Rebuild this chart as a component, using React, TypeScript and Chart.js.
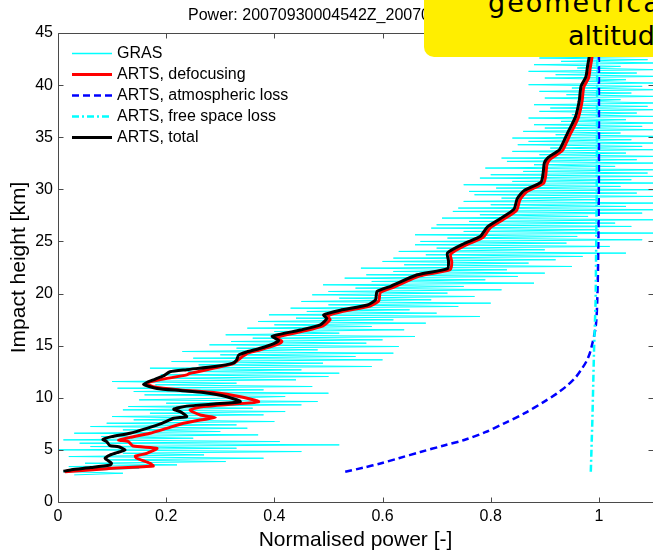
import React, { useEffect, useRef } from "react";
import { Chart, registerables } from "chart.js";

Chart.register(...registerables);

const FONT = '"Liberation Sans", Arial, Helvetica, sans-serif';

const X_TICKS = [0, 0.2, 0.4, 0.6, 0.8, 1];
const X_TICK_LABELS = ["0", "0.2", "0.4", "0.6", "0.8", "1"];
const Y_TICKS = [0, 5, 10, 15, 20, 25, 30, 35, 40, 45];
const Y_TICK_LABELS = ["0", "5", "10", "15", "20", "25", "30", "35", "40", "45"];

const TITLE = "Power: 20070930004542Z_20070930004700Z";
const X_TITLE = "Normalised power [-]";
const Y_TITLE = "Impact height [km]";
const NOTE_LINES = ["geometrical", "altitude"];

const SERIES_LABELS = [
  "GRAS",
  "ARTS, defocusing",
  "ARTS, atmospheric loss",
  "ARTS, free space loss",
  "ARTS, total",
];

// GRAS measured profile: sampled every 0.16 km from 2.6 km
const GRAS_START_KM = 2.6;
const GRAS_STEP_KM = 0.16;
const GRAS_POWER = [
  0.03, 0.12, 0.01, 0.08, 0.15, 0.02, 0.22, 0.05, 0.31, 0.09,
  0.38, 0.02, 0.27, 0.12, 0.45, 0.0, 0.33, 0.06, 0.52, 0.04,
  0.41, 0.01, 0.25, 0.08, 0.37, 0.03, 0.3, 0.12, 0.35, 0.06,
  0.33, 0.09, 0.4, 0.14, 0.28, 0.1, 0.38, 0.17, 0.42, 0.12,
  0.36, 0.13, 0.45, 0.2, 0.48, 0.15, 0.3, 0.42, 0.16, 0.5,
  0.14, 0.38, 0.11, 0.47, 0.18, 0.33, 0.1, 0.44, 0.2, 0.5,
  0.19, 0.52, 0.24, 0.45, 0.17, 0.58, 0.26, 0.49, 0.21, 0.6,
  0.25, 0.55, 0.3, 0.62, 0.23, 0.48, 0.33, 0.63, 0.28, 0.57,
  0.32, 0.6, 0.36, 0.66, 0.31, 0.52, 0.4, 0.64, 0.35, 0.58,
  0.4, 0.68, 0.37, 0.62, 0.44, 0.78, 0.39, 0.7, 0.46, 0.65,
  0.43, 0.74, 0.5, 0.8, 0.45, 0.69, 0.52, 0.77, 0.47, 0.72,
  0.5, 0.82, 0.55, 0.75, 0.49, 0.88, 0.58, 0.79, 0.53, 0.85,
  0.57, 0.9, 0.62, 0.83, 0.56, 0.95, 0.64, 0.87, 0.6, 0.92,
  0.62, 0.97, 0.68, 1.05, 0.63, 0.9, 0.7, 1.02, 0.66, 0.94,
  0.67, 1.08, 0.72, 0.96, 0.66, 1.1, 0.75, 1.0, 0.69, 1.06,
  0.7, 1.03, 0.76, 1.1, 0.71, 0.98, 0.78, 1.08, 0.73, 1.12,
  0.74, 1.05, 0.8, 1.12, 0.75, 1.0, 0.82, 1.1, 0.77, 1.07,
  0.76, 1.11, 0.81, 1.04, 0.75, 1.12, 0.84, 1.06, 0.78, 1.1,
  0.8, 1.09, 0.86, 1.12, 0.79, 1.03, 0.88, 1.11, 0.83, 1.07,
  0.82, 1.12, 0.89, 1.05, 0.84, 1.1, 0.91, 1.08, 0.85, 1.12,
  0.87, 1.06, 0.84, 1.12, 0.92, 1.04, 0.86, 1.11, 0.9, 1.08,
  0.88, 1.12, 0.93, 1.05, 0.87, 1.1, 0.95, 1.07, 0.89, 1.12,
  0.91, 1.09, 0.88, 1.12, 0.96, 1.04, 0.9, 1.11, 0.94, 1.06,
  0.89, 1.12, 0.95, 1.08, 0.87, 1.1, 0.97, 1.05, 0.9, 1.12,
  0.92, 1.07, 0.87, 1.11, 0.96, 1.04, 0.88, 1.12, 0.93, 1.09,
  0.89, 1.12, 0.95, 1.06, 0.87, 1.1, 0.98, 1.08, 0.9, 1.12,
];

const DEFOC_HEIGHT = [
  2.9, 3.2, 3.45, 3.7, 4.2, 4.4, 4.67, 5.15, 5.37, 5.8,
  5.95, 6.2, 6.6, 7.07, 7.55, 7.87, 8.1, 8.35, 8.83, 9.15,
  9.4, 9.63, 10.1, 10.5, 10.75, 11.07, 11.4, 11.7, 12.2, 12.35,
  12.9, 13.3, 13.8, 14.3, 14.6, 15.1, 15.4, 15.8, 16.4, 16.9,
  17.5, 17.85, 18.3, 18.8, 19.3, 20.1, 20.6, 21.7, 22.3, 23.0,
  23.8, 24.7, 25.4, 26.3, 27.1, 28.0, 29.0, 29.8, 30.6, 31.5,
  32.4, 32.9, 33.7, 34.5, 35.3, 36.1, 36.9, 37.7, 38.5, 39.8,
  40.7, 41.7, 42.6, 44.0,
];
const DEFOC_POWER = [
  0.013, 0.09, 0.176, 0.17, 0.146, 0.143, 0.164, 0.183, 0.139, 0.13,
  0.112, 0.133, 0.17, 0.201, 0.232, 0.263, 0.291, 0.263, 0.244, 0.269,
  0.325, 0.371, 0.337, 0.288, 0.226, 0.176, 0.164, 0.186, 0.238, 0.244,
  0.294, 0.325, 0.337, 0.352, 0.374, 0.404, 0.414, 0.403, 0.454, 0.49,
  0.503, 0.498, 0.527, 0.577, 0.593, 0.596, 0.62, 0.669, 0.725, 0.728,
  0.726, 0.756, 0.786, 0.799, 0.823, 0.848, 0.854, 0.867, 0.898, 0.902,
  0.904, 0.91, 0.932, 0.94, 0.947, 0.955, 0.962, 0.966, 0.969, 0.972,
  0.981, 0.984, 0.987, 0.99,
];

const ATM_HEIGHT = [2.9, 3.3, 3.7, 4.2, 4.8, 5.4, 5.95, 6.7, 7.55, 8.5, 9.63, 10.4, 11.2, 11.9, 12.67, 13.6, 14.6, 16.8, 19.4, 25, 32, 44];
const ATM_POWER = [0.531, 0.565, 0.596, 0.63, 0.67, 0.712, 0.751, 0.79, 0.825, 0.862, 0.899, 0.922, 0.942, 0.956, 0.967, 0.978, 0.985, 0.994, 0.997, 0.999, 1.0, 1.0];

const FREE_HEIGHT = [2.9, 8, 14.6, 19.4, 30, 44];
const FREE_POWER = [0.985, 0.988, 0.991, 0.994, 0.996, 0.997];

const TOTAL_HEIGHT = [
  2.95, 3.1, 3.3, 3.55, 3.7, 4.0, 4.2, 4.5, 4.73, 5.0,
  5.3, 5.4, 5.8, 6.0, 6.27, 6.6, 7.07, 7.55, 8.03, 8.19,
  8.67, 8.9, 9.2, 9.4, 9.63, 10.1, 10.5, 10.7, 10.9, 11.3,
  11.8, 12.1, 12.5, 12.7, 13.0, 13.3, 13.6, 14.1, 14.4, 14.75,
  15.2, 15.5, 15.9, 16.5, 17.0, 17.6, 17.95, 18.4, 18.9, 19.4,
  20.2, 20.7, 21.8, 22.4, 23.1, 23.9, 24.8, 25.5, 26.4, 27.2,
  28.1, 29.1, 29.9, 30.7, 31.6, 32.5, 33.0, 33.8, 34.6, 35.4,
  36.2, 37.0, 37.8, 38.6, 39.9, 40.8, 41.8, 42.7, 44.0,
];
const TOTAL_POWER = [
  0.01, 0.025, 0.06, 0.096, 0.099, 0.092, 0.087, 0.096, 0.109, 0.124,
  0.112, 0.096, 0.09, 0.083, 0.099, 0.133, 0.164, 0.192, 0.214, 0.238,
  0.226, 0.214, 0.238, 0.288, 0.337, 0.312, 0.269, 0.226, 0.183, 0.158,
  0.18, 0.195, 0.207, 0.238, 0.29, 0.322, 0.33, 0.334, 0.349, 0.374,
  0.399, 0.408, 0.396, 0.448, 0.485, 0.497, 0.491, 0.522, 0.572, 0.587,
  0.59, 0.615, 0.664, 0.72, 0.722, 0.72, 0.751, 0.781, 0.794, 0.818,
  0.843, 0.849, 0.862, 0.893, 0.897, 0.899, 0.905, 0.927, 0.935, 0.942,
  0.95, 0.957, 0.961, 0.964, 0.967, 0.976, 0.979, 0.982, 0.986,
];

const pairs = (xs: number[], ys: number[]) => xs.map((x, i) => ({ x, y: ys[i] }));

const matlabFrame = {
  id: "matlabFrame",
  afterDatasetsDraw(chart: any) {
    const { ctx, chartArea: a, scales } = chart;
    const xs = scales.x;
    const ys = scales.y;
    const L = Math.round(a.left) + 0.5;
    const R = Math.round(a.right) + 0.5;
    const T = Math.round(a.top) + 0.5;
    const B = Math.round(a.bottom) + 0.5;
    ctx.save();
    ctx.strokeStyle = "#4a4a4a";
    ctx.lineWidth = 1;
    ctx.setLineDash([]);
    ctx.beginPath();
    ctx.moveTo(L, T);
    ctx.lineTo(R, T);
    ctx.lineTo(R, B);
    ctx.lineTo(L, B);
    ctx.closePath();
    const tl = 5;
    X_TICKS.forEach((v) => {
      const px = Math.round(xs.getPixelForValue(v)) + 0.5;
      ctx.moveTo(px, B);
      ctx.lineTo(px, B - tl);
      ctx.moveTo(px, T);
      ctx.lineTo(px, T + tl);
    });
    Y_TICKS.forEach((v) => {
      const py = Math.round(ys.getPixelForValue(v)) + 0.5;
      ctx.moveTo(L, py);
      ctx.lineTo(L + tl, py);
      ctx.moveTo(R, py);
      ctx.lineTo(R - tl, py);
    });
    ctx.stroke();
    ctx.restore();
  },
  afterDraw(chart: any) {
    const { ctx, chartArea: a } = chart;
    ctx.save();
    // title
    ctx.fillStyle = "#000";
    ctx.font = `16px ${FONT}`;
    ctx.textAlign = "left";
    ctx.textBaseline = "alphabetic";
    ctx.fillText(TITLE, a.left + 130, 20);
    // legend
    const rowY0 = a.top + 19.5;
    const rowGap = 21.2;
    const x0 = a.left + 14;
    const x1 = a.left + 54;
    chart.data.datasets.forEach((ds: any, i: number) => {
      const y = Math.round(rowY0 + i * rowGap) + 0.5;
      ctx.strokeStyle = ds.borderColor;
      ctx.lineWidth = Math.max(ds.borderWidth, 1.3);
      ctx.setLineDash(ds.borderDash || []);
      ctx.beginPath();
      ctx.moveTo(x0, y);
      ctx.lineTo(x1, y);
      ctx.stroke();
      ctx.setLineDash([]);
      ctx.fillStyle = "#000";
      ctx.font = `16px ${FONT}`;
      ctx.textBaseline = "middle";
      ctx.fillText(ds.label, x1 + 5, y);
    });
    ctx.restore();
  },
};

export default function App() {
  const canvasRef = useRef<HTMLCanvasElement | null>(null);

  useEffect(() => {
    const canvas = canvasRef.current;
    if (!canvas) return;
    const grasData = GRAS_POWER.map((p, i) => ({ x: p, y: GRAS_START_KM + i * GRAS_STEP_KM }));
    const chart = new Chart(canvas, {
      type: "scatter",
      data: {
        datasets: [
          {
            label: SERIES_LABELS[0],
            data: grasData,
            showLine: true,
            borderColor: "#00ffff",
            backgroundColor: "#00ffff",
            borderWidth: 1,
            pointRadius: 0,
            tension: 0,
            order: 4,
          },
          {
            label: SERIES_LABELS[1],
            data: pairs(DEFOC_POWER, DEFOC_HEIGHT),
            showLine: true,
            borderColor: "#ff0000",
            backgroundColor: "#ff0000",
            borderWidth: 3,
            pointRadius: 0,
            tension: 0.2,
            order: 3,
          },
          {
            label: SERIES_LABELS[2],
            data: pairs(ATM_POWER, ATM_HEIGHT),
            showLine: true,
            borderColor: "#0000ff",
            backgroundColor: "#0000ff",
            borderWidth: 2.5,
            borderDash: [7, 4],
            pointRadius: 0,
            tension: 0.3,
            order: 2,
          },
          {
            label: SERIES_LABELS[3],
            data: pairs(FREE_POWER, FREE_HEIGHT),
            showLine: true,
            borderColor: "#00ffff",
            backgroundColor: "#00ffff",
            borderWidth: 2.5,
            borderDash: [7, 3, 2, 3],
            pointRadius: 0,
            tension: 0,
            order: 1,
          },
          {
            label: SERIES_LABELS[4],
            data: pairs(TOTAL_POWER, TOTAL_HEIGHT),
            showLine: true,
            borderColor: "#000000",
            backgroundColor: "#000000",
            borderWidth: 3,
            pointRadius: 0,
            tension: 0.2,
            order: 0,
          },
        ],
      },
      options: {
        responsive: false,
        animation: false,
        events: [],
        layout: { padding: { top: 33, right: 7, left: 0, bottom: 0 } },
        plugins: {
          legend: { display: false },
          tooltip: { enabled: false },
          title: { display: false },
        },
        scales: {
          x: {
            type: "linear",
            position: "bottom",
            min: 0,
            max: 1.1,
            afterFit: (s: any) => {
              s.height = 51;
            },
            afterBuildTicks: (s: any) => {
              s.ticks = X_TICKS.map((value) => ({ value }));
            },
            ticks: {
              autoSkip: false,
              maxRotation: 0,
              padding: 5,
              color: "#000",
              font: { family: FONT, size: 16 },
              callback: (_v: any, i: number) => X_TICK_LABELS[i],
            },
            grid: { display: false, drawTicks: false },
            border: { display: false },
            title: {
              display: true,
              text: X_TITLE,
              color: "#000",
              font: { family: FONT, size: 21 },
              padding: { top: 0, bottom: 0 },
            },
          },
          y: {
            type: "linear",
            position: "left",
            min: 0,
            max: 45,
            afterFit: (s: any) => {
              s.width = 58;
            },
            afterBuildTicks: (s: any) => {
              s.ticks = Y_TICKS.map((value) => ({ value }));
            },
            ticks: {
              autoSkip: false,
              padding: 5,
              color: "#000",
              font: { family: FONT, size: 16 },
              callback: (_v: any, i: number) => Y_TICK_LABELS[i],
            },
            grid: { display: false, drawTicks: false },
            border: { display: false },
            title: {
              display: true,
              text: Y_TITLE,
              color: "#000",
              font: { family: FONT, size: 21 },
              padding: { top: 7, bottom: 0 },
            },
          },
        },
      },
      plugins: [matlabFrame],
    } as any);
    return () => chart.destroy();
  }, []);

  const noteText = {
    position: "absolute" as const,
    fontFamily: '"DejaVu Sans", sans-serif',
    fontSize: 27,
    lineHeight: "27px",
    whiteSpace: "nowrap" as const,
    color: "#000",
  };

  return (
    <div
      style={{
        position: "absolute",
        left: 0,
        top: 0,
        width: 653,
        height: 553,
        overflow: "hidden",
        background: "#fff",
      }}
    >
      <canvas ref={canvasRef} width={660} height={553} style={{ display: "block" }} />
      <div
        style={{
          position: "absolute",
          left: 424,
          top: -20,
          width: 300,
          height: 77,
          borderRadius: 10,
          background: "#ffee00",
          overflow: "hidden",
        }}
      >
        <span style={{ ...noteText, left: 64, top: 9, letterSpacing: "2px" }}>{NOTE_LINES[0]}</span>
        <span style={{ ...noteText, left: 144, top: 42 }}>{NOTE_LINES[1]}</span>
      </div>
    </div>
  );
}
